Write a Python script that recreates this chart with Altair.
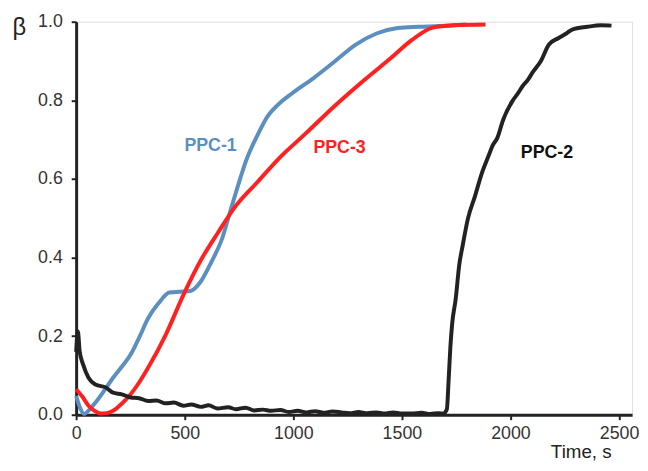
import altair as alt
import pandas as pd

# PPC-1 (blue)
ppc1_t = [0, 20, 37, 60, 89, 130, 170, 210, 251, 290, 332, 380, 429, 477, 526, 574, 623, 672, 704, 736, 785, 833, 882, 930, 995, 1092, 1189, 1286, 1383, 1481, 1578, 1675, 1796]
ppc1_b = [0.048, 0.015, 0.002, 0.012, 0.031, 0.062, 0.094, 0.122, 0.153, 0.196, 0.246, 0.284, 0.311, 0.313, 0.315, 0.339, 0.389, 0.448, 0.507, 0.566, 0.650, 0.709, 0.760, 0.789, 0.818, 0.856, 0.898, 0.941, 0.970, 0.984, 0.987, 0.989, 0.993]

# PPC-3 (red)
ppc3_t = [0, 30, 57, 85, 113, 140, 170, 210, 251, 290, 332, 413, 494, 574, 655, 736, 833, 930, 1060, 1189, 1319, 1448, 1545, 1642, 1739, 1885]
ppc3_b = [0.065, 0.045, 0.023, 0.010, 0.003, 0.004, 0.010, 0.028, 0.052, 0.082, 0.120, 0.204, 0.305, 0.393, 0.465, 0.532, 0.591, 0.650, 0.717, 0.785, 0.848, 0.907, 0.953, 0.985, 0.991, 0.993]

# PPC-2 (black)
ppc2_t = [0, 8, 16, 32, 57, 89, 138, 170, 210, 251, 290, 332, 370, 413, 450, 494, 530, 574, 610, 650, 700, 736, 780, 820, 860, 898, 940, 980, 1020, 1060, 1100, 1140, 1180, 1222, 1260, 1300, 1340, 1383, 1420, 1460, 1500, 1545, 1590, 1630, 1670, 1691, 1707, 1715, 1723, 1731, 1748, 1764, 1780, 1804, 1837, 1869, 1900, 1917, 1940, 1966, 2011, 2031, 2057, 2080, 2102, 2140, 2177, 2220, 2257, 2284, 2354, 2416, 2465]
ppc2_b = [0.160, 0.212, 0.162, 0.128, 0.094, 0.077, 0.069, 0.056, 0.052, 0.044, 0.042, 0.035, 0.036, 0.029, 0.031, 0.023, 0.026, 0.020, 0.024, 0.016, 0.019, 0.014, 0.018, 0.011, 0.013, 0.010, 0.012, 0.007, 0.010, 0.006, 0.009, 0.005, 0.008, 0.006, 0.004, 0.007, 0.004, 0.006, 0.003, 0.006, 0.003, 0.003, 0.005, 0.002, 0.004, 0.003, 0.014, 0.086, 0.170, 0.229, 0.296, 0.381, 0.431, 0.499, 0.557, 0.616, 0.660, 0.684, 0.705, 0.750, 0.800, 0.815, 0.837, 0.852, 0.871, 0.900, 0.942, 0.958, 0.970, 0.980, 0.987, 0.991, 0.990]

label_text = ["PPC-1", "PPC-3", "PPC-2"]
label_t = [619, 1213, 2168]
label_b = [0.684, 0.678, 0.665]
label_color = ["#5b8fbf", "#ff2020", "#111111"]

x_ticks = [0, 500, 1000, 1500, 2000, 2500]
y_ticks = [0.0, 0.2, 0.4, 0.6, 0.8, 1.0]

series_names = ["PPC-2", "PPC-3", "PPC-1"]
series_colors = ["#222222", "#ff2020", "#5b8fbf"]

rows = []
for name, ts, bs in [("PPC-1", ppc1_t, ppc1_b), ("PPC-3", ppc3_t, ppc3_b), ("PPC-2", ppc2_t, ppc2_b)]:
    for i, (t, b) in enumerate(zip(ts, bs)):
        rows.append({"series": name, "t": t, "beta": b, "order": i})
df = pd.DataFrame(rows)
labels = pd.DataFrame({"text": label_text, "t": label_t, "beta": label_b, "color": label_color})

FONT = "Liberation Sans"

x_scale = alt.Scale(domain=[0, 2560], nice=False, zero=False)
y_scale = alt.Scale(domain=[0, 1], nice=False)

lines = alt.Chart(df).mark_line(strokeWidth=4, interpolate="monotone").encode(
    x=alt.X("t:Q", scale=x_scale, axis=alt.Axis(
        values=x_ticks, format="d", title="Time, s", titleX=511, titleY=43, titleAlign="center",
        titleBaseline="alphabetic", titleFontSize=19, titleFontWeight="normal",
        titleFont=FONT, titleColor="#222222", labelFont=FONT, labelFontSize=18,
        labelColor="#333333", labelPadding=5, tickSize=5, tickWidth=2, tickColor="#222222",
        domainColor="#222222", domainWidth=3, grid=False, labelFlush=False)),
    y=alt.Y("beta:Q", scale=y_scale, axis=alt.Axis(
        values=y_ticks, format=".1f", title="β", titleAngle=0, titleX=-58, titleY=13,
        titleAlign="center", titleBaseline="alphabetic", titleFontSize=24,
        titleFontWeight="normal", titleFont=FONT, titleColor="#222222",
        labelFont=FONT, labelFontSize=18, labelColor="#333333", labelPadding=9,
        tickSize=5, tickWidth=2, tickColor="#222222", domainColor="#222222",
        domainWidth=3, grid=False, labelFlush=False)),
    color=alt.Color("series:N", scale=alt.Scale(domain=series_names, range=series_colors), legend=None),
    order=alt.Order("order:Q"),
    detail="series:N",
)

text = alt.Chart(labels).mark_text(fontSize=18, fontWeight="bold", font=FONT, align="center", baseline="middle").encode(
    x=alt.X("t:Q", scale=x_scale),
    y=alt.Y("beta:Q", scale=y_scale),
    text="text:N",
    color=alt.Color("color:N", scale=None),
)

chart = (lines + text).properties(
    width=563, height=398,
    autosize=alt.AutoSizeParams(type="none"),
    padding={"left": 69, "top": 11, "right": 8, "bottom": 46},
).configure_view(stroke=None).configure(background="white")

chart.save("out.html", embed_options={"renderer": "svg", "actions": False})
